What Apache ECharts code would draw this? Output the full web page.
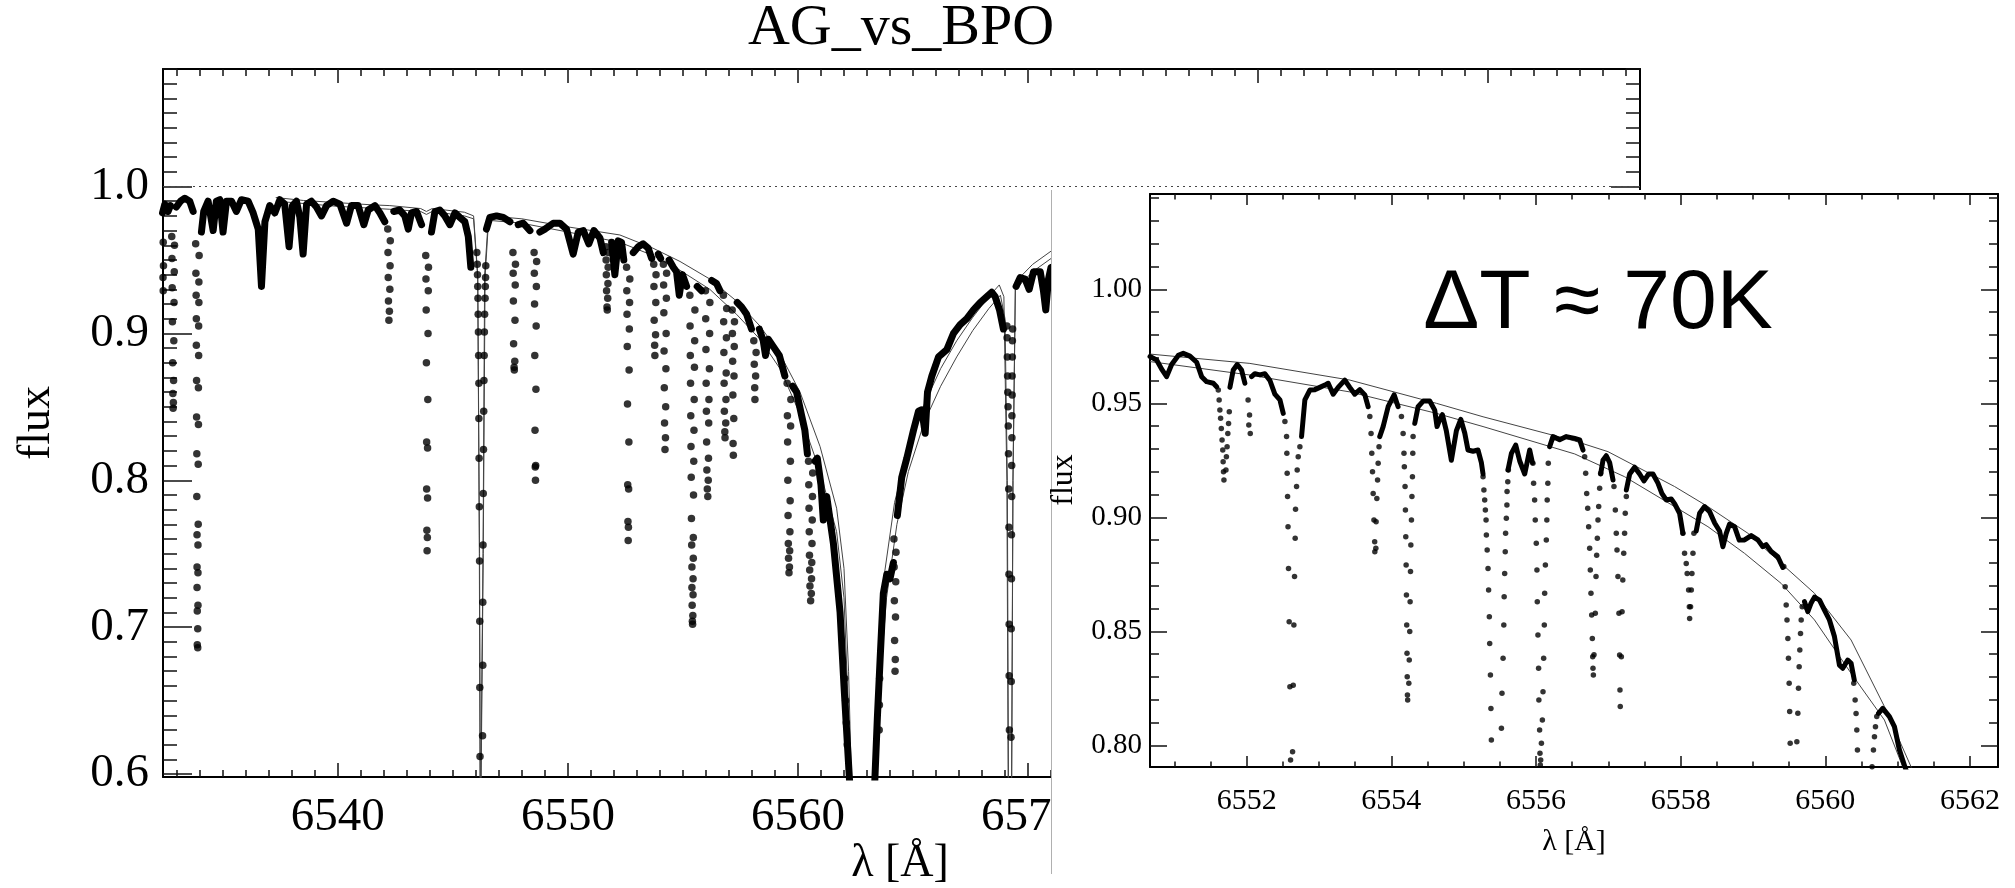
<!DOCTYPE html>
<html><head><meta charset="utf-8">
<script src="https://cdn.jsdelivr.net/npm/echarts@6/dist/echarts.min.js"></script>
<style>html,body{margin:0;padding:0;background:#fff}#c{width:2015px;height:888px}</style>
</head><body><div id="c"></div><script>
// ---------------- DATA ----------------
const titleText = 'AG_vs_BPO';
const noteText = 'ΔT ≈ 70K';
const mainXTicks = [6540, 6550, 6560, 6570, 6580, 6590];
const mainYTicks = [0.6, 0.7, 0.8, 0.9, 1.0];
const insetXTicks = [6552, 6554, 6556, 6558, 6560, 6562];
const insetYTicks = [0.80, 0.85, 0.90, 0.95, 1.00];
const mainRange = {x: [6532.4, 6596.6], y: [0.598, 1.080]};
const insetRange = {x: [6550.664, 6562.387], y: [0.7905, 1.0418]};

// main panel: observed spectrum, dense part (null = deep line, drawn as dots)
const mainSpectrum = [
[6532.38,0.982],[6532.48,0.988],[6532.62,0.983],[6532.72,0.987],[6532.84,null],
[6532.98,0.986],[6533.16,0.990],[6533.35,0.992],[6533.56,0.990],[6533.71,0.983],[6533.90,null],
[6534.07,0.969],[6534.17,0.983],[6534.36,0.990],[6534.58,0.970],[6534.72,0.990],[6534.87,0.991],[6535.01,0.969],
[6535.16,0.990],[6535.38,0.990],[6535.59,0.983],[6535.81,0.991],[6536.10,0.990],[6536.32,0.982],[6536.54,0.971],
[6536.68,0.932],[6536.83,0.976],[6537.04,0.987],[6537.26,0.982],[6537.48,0.991],[6537.69,0.988],[6537.88,0.959],
[6538.03,0.987],[6538.20,0.990],[6538.35,0.979],[6538.49,0.954],[6538.64,0.988],[6538.85,0.990],[6539.07,0.986],
[6539.29,0.980],[6539.51,0.987],[6539.80,0.990],[6540.09,0.988],[6540.38,0.975],[6540.59,0.987],[6540.88,0.987],
[6541.13,0.974],[6541.32,0.984],[6541.61,0.987],[6541.83,0.982],[6542.04,0.976],[6542.22,null],
[6542.43,0.983],[6542.69,0.984],[6542.91,0.980],[6543.06,0.971],[6543.20,0.982],[6543.42,0.983],[6543.64,0.974],[6543.88,null],
[6544.07,0.969],[6544.22,0.983],[6544.43,0.984],[6544.65,0.980],[6544.87,0.974],[6545.09,0.982],[6545.30,0.979],
[6545.52,0.976],[6545.67,0.966],[6545.78,0.945],[6546.23,null],
[6546.46,0.971],[6546.61,0.979],[6546.90,0.980],[6547.19,0.979],[6547.48,0.976],[6547.67,null],
[6547.84,0.974],[6548.06,0.975],[6548.35,0.970],[6548.59,null],
[6548.78,0.969],[6549.00,0.971],[6549.36,0.975],[6549.65,0.975],[6549.94,0.971],[6550.23,0.954],[6550.45,0.969],
[6550.67,0.970],[6550.91,0.961],[6551.13,0.970],[6551.39,0.965],[6551.54,0.955],[6551.71,null],
[6551.90,0.962],[6552.04,0.940],[6552.19,0.963],[6552.33,0.962],[6552.43,0.950],[6552.62,null],
[6552.84,0.955],[6553.06,0.959],[6553.27,0.961],[6553.49,0.958],[6553.64,0.951],[6553.78,null],
[6553.93,0.954],[6554.03,0.951],[6554.22,null],
[6554.40,0.950],[6554.58,0.945],[6554.72,0.942],[6554.84,0.926],[6554.98,0.940],[6555.16,0.932],[6555.42,null],
[6555.62,0.932],[6555.81,0.929],[6556.07,null],
[6556.25,0.936],[6556.46,0.934],[6556.61,0.929],[6556.83,null],
[6557.01,0.924],[6557.19,null],
[6557.36,0.921],[6557.55,0.918],[6557.77,0.913],[6557.98,0.903],[6558.13,null],
[6558.32,0.903],[6558.49,0.895],[6558.59,0.885],[6558.71,0.896],[6558.93,0.891],[6559.19,0.885],[6559.43,0.871],[6559.61,null],
[6559.77,0.864],[6559.94,0.860],[6560.16,0.844],[6560.30,0.834],[6560.41,0.818],[6560.55,null],
[6560.74,0.813],[6560.84,0.815],[6561.00,0.797],[6561.10,0.773],[6561.25,0.789],[6561.54,0.757],[6561.83,0.710],
[6562.00,0.660],[6562.15,0.620],[6562.30,0.580],[6562.80,null],
[6563.30,0.580],[6563.45,0.638],[6563.57,0.678],[6563.71,0.723],[6563.86,0.736],[6564.00,0.733],[6564.15,0.744],[6564.22,null],
[6564.32,0.776],[6564.51,0.802],[6564.73,0.815],[6565.02,0.834],[6565.24,0.847],[6565.38,0.848],[6565.53,0.832],
[6565.63,0.860],[6565.82,0.871],[6566.11,0.884],[6566.47,0.889],[6566.76,0.900],[6567.05,0.906],[6567.34,0.910],
[6567.63,0.916],[6567.92,0.921],[6568.21,0.925],[6568.42,0.928],[6568.57,0.925],[6568.76,0.916],[6568.93,0.903],[6569.22,null],
[6569.48,0.932],[6569.66,0.938],[6569.87,0.937],[6570.05,0.930],[6570.24,0.942],[6570.53,0.942],[6570.67,0.929],
[6570.77,0.916],[6570.89,0.937],[6571.00,0.945],[6571.30,0.946]
];

// main panel: individual points visible in the deep absorption lines
const mainLineDots = [
[6532.39,0.971],[6532.41,0.962],[6532.39,0.954],[6532.42,0.946],[6532.40,0.938],[6532.41,0.929],
[6532.78,0.966],[6532.90,0.960],[6532.79,0.951],[6532.89,0.942],[6532.80,0.931],[6532.88,0.921],[6532.81,0.908],[6532.87,0.895],[6532.82,0.880],[6532.86,0.868],[6532.83,0.859],[6532.85,0.853],[6532.84,0.849],
[6533.82,0.961],[6533.97,0.953],[6533.83,0.941],[6533.96,0.935],[6533.84,0.926],[6533.96,0.921],[6533.85,0.910],[6533.95,0.905],[6533.85,0.892],[6533.95,0.885],[6533.86,0.868],[6533.94,0.863],[6533.86,0.843],[6533.94,0.838],[6533.87,0.818],[6533.93,0.811],[6533.87,0.789],[6533.93,0.770],[6533.88,0.763],[6533.92,0.756],[6533.88,0.741],[6533.92,0.737],[6533.88,0.727],[6533.92,0.715],[6533.89,0.711],[6533.91,0.699],[6533.89,0.688],[6533.91,0.686],
[6542.17,0.971],[6542.28,0.963],[6542.18,0.955],[6542.27,0.946],[6542.19,0.938],[6542.26,0.930],[6542.20,0.922],[6542.24,0.915],[6542.22,0.909],
[6543.82,0.953],[6543.94,0.945],[6543.83,0.937],[6543.93,0.929],[6543.84,0.916],[6543.92,0.900],[6543.85,0.880],[6543.91,0.855],[6543.86,0.826],[6543.90,0.822],[6543.86,0.794],[6543.90,0.788],[6543.87,0.766],[6543.89,0.761],[6543.88,0.752],
[6546.04,0.955],[6546.06,0.947],[6546.07,0.940],[6546.08,0.932],[6546.09,0.924],[6546.10,0.913],[6546.11,0.901],[6546.12,0.885],[6546.13,0.866],[6546.13,0.842],[6546.14,0.815],[6546.15,0.782],[6546.16,0.745],[6546.17,0.704],[6546.17,0.659],[6546.18,0.612],
[6546.43,0.946],[6546.42,0.938],[6546.41,0.932],[6546.40,0.924],[6546.38,0.913],[6546.37,0.901],[6546.36,0.885],[6546.35,0.868],[6546.34,0.847],[6546.33,0.821],[6546.32,0.791],[6546.31,0.756],[6546.30,0.717],[6546.30,0.674],[6546.29,0.626],
[6547.61,0.955],[6547.72,0.947],[6547.62,0.941],[6547.71,0.933],[6547.63,0.922],[6547.70,0.909],[6547.64,0.893],[6547.69,0.881],[6547.66,0.877],[6547.67,0.875],
[6548.53,0.955],[6548.64,0.949],[6548.54,0.941],[6548.63,0.932],[6548.55,0.920],[6548.62,0.905],[6548.56,0.885],[6548.61,0.862],[6548.57,0.834],[6548.60,0.810],[6548.58,0.809],[6548.59,0.800],
[6551.65,0.959],[6551.76,0.955],[6551.66,0.950],[6551.75,0.945],[6551.67,0.940],[6551.74,0.934],[6551.68,0.929],[6551.73,0.924],[6551.70,0.918],[6551.71,0.916],
[6552.55,0.945],[6552.69,0.937],[6552.56,0.929],[6552.68,0.921],[6552.57,0.913],[6552.67,0.903],[6552.58,0.891],[6552.66,0.875],[6552.59,0.852],[6552.65,0.826],[6552.60,0.797],[6552.64,0.794],[6552.61,0.772],[6552.63,0.768],[6552.62,0.759],
[6553.73,0.947],[6553.83,0.940],[6553.74,0.932],[6553.82,0.921],[6553.75,0.909],[6553.81,0.899],[6553.77,0.892],[6553.78,0.885],
[6554.15,0.947],[6554.29,0.941],[6554.16,0.933],[6554.28,0.924],[6554.17,0.914],[6554.27,0.900],[6554.18,0.888],[6554.26,0.876],[6554.19,0.863],[6554.25,0.850],[6554.20,0.839],[6554.24,0.829],[6554.22,0.821],
[6555.30,0.926],[6555.52,0.916],[6555.31,0.905],[6555.51,0.895],[6555.32,0.885],[6555.50,0.877],[6555.33,0.866],[6555.49,0.855],[6555.34,0.844],[6555.48,0.834],[6555.35,0.823],[6555.47,0.813],[6555.36,0.802],[6555.46,0.790],[6555.37,0.774],[6555.45,0.761],[6555.38,0.756],[6555.45,0.747],[6555.39,0.741],[6555.44,0.733],[6555.39,0.727],[6555.44,0.722],[6555.40,0.715],[6555.43,0.708],[6555.41,0.704],[6555.42,0.702],
[6555.98,0.929],[6556.17,0.921],[6555.99,0.910],[6556.16,0.900],[6556.00,0.889],[6556.15,0.876],[6556.01,0.866],[6556.13,0.855],[6556.02,0.847],[6556.12,0.839],[6556.03,0.826],[6556.11,0.815],[6556.04,0.807],[6556.10,0.800],[6556.06,0.794],[6556.08,0.789],
[6556.76,0.926],[6556.90,0.917],[6556.77,0.908],[6556.89,0.897],[6556.78,0.887],[6556.88,0.873],[6556.79,0.866],[6556.87,0.855],[6556.80,0.847],[6556.86,0.839],[6556.82,0.833],[6556.83,0.829],
[6557.14,0.916],[6557.24,0.908],[6557.15,0.900],[6557.23,0.891],[6557.16,0.881],[6557.22,0.871],[6557.17,0.858],[6557.21,0.842],[6557.18,0.825],[6557.19,0.817],
[6558.08,0.895],[6558.18,0.887],[6558.10,0.879],[6558.16,0.871],[6558.12,0.863],[6558.13,0.855],
[6559.53,0.866],[6559.69,0.855],[6559.54,0.844],[6559.68,0.837],[6559.55,0.826],[6559.67,0.813],[6559.56,0.800],[6559.66,0.786],[6559.57,0.776],[6559.65,0.765],[6559.58,0.757],[6559.64,0.752],[6559.59,0.747],[6559.63,0.741],[6559.61,0.737],
[6560.46,0.813],[6560.64,0.805],[6560.47,0.797],[6560.63,0.789],[6560.48,0.781],[6560.62,0.773],[6560.49,0.765],[6560.61,0.757],[6560.50,0.749],[6560.60,0.744],[6560.51,0.739],[6560.59,0.733],[6560.52,0.728],[6560.58,0.723],[6560.55,0.718],
[6562.03,0.665],[6562.07,0.650],[6562.10,0.635],[6562.14,0.620],[6563.55,0.665],[6563.54,0.647],[6563.53,0.630],
[6564.17,0.760],[6564.26,0.751],[6564.18,0.741],[6564.25,0.731],[6564.19,0.718],[6564.24,0.707],[6564.20,0.691],[6564.23,0.678],[6564.22,0.670],
[6569.08,0.905],[6569.09,0.897],[6569.10,0.884],[6569.11,0.871],[6569.12,0.860],[6569.13,0.850],[6569.14,0.837],[6569.15,0.818],[6569.16,0.794],[6569.17,0.768],[6569.17,0.736],[6569.18,0.702],[6569.18,0.667],[6569.19,0.630],
[6569.33,0.903],[6569.32,0.895],[6569.32,0.884],[6569.31,0.871],[6569.31,0.858],[6569.30,0.844],[6569.30,0.829],[6569.29,0.810],[6569.29,0.789],[6569.28,0.763],[6569.28,0.733],[6569.27,0.699],[6569.27,0.663],[6569.26,0.625]
];

// main panel: the two thin model spectra
const mainModelA = [
[6537.30,0.9925],[6538.50,0.9905],[6540.00,0.9890],[6541.50,0.9875],[6542.26,0.9870],[6543.60,0.9850],[6543.85,0.9830],
[6544.10,0.9850],[6545.50,0.9825],[6545.90,0.9800],[6546.08,0.9400],[6546.15,0.7500],[6546.19,0.5500],[6546.27,0.5500],
[6546.31,0.7500],[6546.38,0.9400],[6546.55,0.9800],[6548.00,0.9780],[6550.00,0.9725],[6552.26,0.9670],[6553.70,0.9580],
[6554.87,0.9490],[6556.17,0.9370],[6557.33,0.9220],[6558.35,0.9050],[6559.22,0.8860],[6560.09,0.8600],[6560.96,0.8230],
[6561.68,0.7810],[6562.00,0.7400],[6562.20,0.6700],[6562.35,0.5800],[6562.80,null],
[6563.25,0.5800],[6563.45,0.6600],[6563.70,0.7300],[6564.20,0.7850],[6564.80,0.8220],[6565.50,0.8520],[6566.20,0.8760],
[6566.90,0.8950],[6567.60,0.9110],[6568.30,0.9250],[6568.75,0.9330],[6568.95,0.9250],[6569.08,0.8000],[6569.15,0.5500],
[6569.27,0.5500],[6569.35,0.8000],[6569.45,0.9350],[6570.20,0.9470],[6571.00,0.9560],[6571.50,0.9600]
];
const mainModelB = [
[6537.30,0.9900],[6540.00,0.9865],[6542.26,0.9845],[6543.60,0.9830],[6543.85,0.9810],[6544.10,0.9830],[6545.50,0.9800],
[6545.90,0.9780],[6546.08,0.9380],[6546.16,0.7500],[6546.20,0.5500],[6546.28,0.5500],[6546.32,0.7500],[6546.40,0.9380],
[6546.55,0.9770],[6548.00,0.9750],[6550.00,0.9690],[6552.26,0.9620],[6553.70,0.9530],[6554.87,0.9430],[6556.17,0.9300],
[6557.33,0.9130],[6558.35,0.8960],[6559.22,0.8760],[6560.09,0.8450],[6560.96,0.8060],[6561.68,0.7650],[6562.00,0.7200],
[6562.20,0.6400],[6562.30,0.5800],[6562.80,null],
[6563.30,0.5800],[6563.55,0.6600],[6563.85,0.7200],[6564.30,0.7700],[6564.80,0.8060],[6565.50,0.8400],[6566.20,0.8640],
[6566.90,0.8840],[6567.60,0.9020],[6568.30,0.9170],[6568.80,0.9260],[6569.00,0.9100],[6569.10,0.8000],[6569.16,0.5500],
[6569.28,0.5500],[6569.34,0.8000],[6569.45,0.9300],[6570.20,0.9420],[6571.00,0.9510],[6571.50,0.9550]
];

// inset panel: observed spectrum, dense part
const insetSpectrum = [
[6550.664,0.9705],[6550.756,0.969],[6550.825,0.965],[6550.894,0.9617],[6550.963,0.967],[6551.055,0.971],[6551.124,0.9719],
[6551.216,0.9707],[6551.309,0.968],[6551.378,0.9617],[6551.447,0.9595],[6551.539,0.9588],[6551.585,0.9573],[6551.69,null],
[6551.769,0.957],[6551.815,0.9646],[6551.870,0.967],[6551.930,0.9646],[6551.976,0.9588],[6552.03,null],
[6552.068,0.9617],[6552.114,0.963],[6552.183,0.9625],[6552.252,0.963],[6552.322,0.960],[6552.39,0.954],[6552.46,0.9515],[6552.506,0.9456],[6552.62,null],
[6552.759,0.9354],[6552.805,0.9515],[6552.874,0.9558],[6552.943,0.956],[6553.012,0.957],[6553.081,0.958],[6553.127,0.9588],
[6553.196,0.954],[6553.265,0.957],[6553.357,0.9602],[6553.426,0.957],[6553.495,0.954],[6553.565,0.956],[6553.634,0.9537],[6553.68,0.9485],[6553.77,null],
[6553.84,0.9354],[6553.887,0.9398],[6553.956,0.9485],[6554.039,0.9537],[6554.094,0.9485],[6554.22,null],
[6554.324,0.9412],[6554.37,0.9485],[6554.44,0.951],[6554.531,0.951],[6554.60,0.947],[6554.632,0.9398],[6554.67,0.943],
[6554.706,0.945],[6554.76,0.938],[6554.83,0.925],[6554.90,0.938],[6554.96,0.943],[6555.015,0.937],[6555.06,0.9295],
[6555.13,0.929],[6555.199,0.9295],[6555.245,0.924],[6555.268,0.919],[6555.45,null],
[6555.613,0.9208],[6555.66,0.928],[6555.72,0.9317],[6555.775,0.9247],[6555.844,0.919],[6555.913,0.9295],[6555.95,0.924],[6556.06,null],
[6556.189,0.931],[6556.235,0.9354],[6556.327,0.934],[6556.42,0.9354],[6556.535,0.9346],[6556.604,0.934],[6556.65,0.9295],[6556.79,null],
[6556.894,0.919],[6556.926,0.925],[6556.972,0.927],[6557.018,0.924],[6557.065,0.9164],[6557.16,null],
[6557.249,0.912],[6557.295,0.919],[6557.364,0.922],[6557.433,0.919],[6557.493,0.916],[6557.557,0.919],[6557.617,0.919],
[6557.686,0.915],[6557.74,0.9105],[6557.80,0.9076],[6557.87,0.908],[6557.916,0.906],[6557.985,0.9018],[6558.031,0.893],[6558.12,null],
[6558.215,0.894],[6558.262,0.9018],[6558.33,0.9047],[6558.40,0.9025],[6558.47,0.8975],[6558.538,0.894],[6558.584,0.8871],
[6558.63,0.893],[6558.676,0.897],[6558.745,0.8959],[6558.81,0.890],[6558.883,0.8901],[6558.975,0.892],[6559.067,0.8901],
[6559.136,0.8871],[6559.182,0.888],[6559.251,0.885],[6559.343,0.8827],[6559.412,0.878],[6559.565,null],
[6559.712,0.863],[6559.758,0.8586],[6559.80,0.8622],[6559.85,0.865],[6559.92,0.8637],[6559.988,0.8593],[6560.057,0.855],
[6560.126,0.8477],[6560.195,0.8352],[6560.241,0.8338],[6560.31,0.8374],[6560.356,0.836],[6560.40,0.8287],[6560.55,null],
[6560.735,0.814],[6560.794,0.8162],[6560.886,0.8126],[6560.955,0.8082],[6561.024,0.798],[6561.093,0.7913],[6561.16,0.785]
];

// inset panel: individual points in the deep lines
const insetLineDots = [
[6551.608,0.9558],[6551.62,0.9515],[6551.63,0.9471],[6551.64,0.9434],[6551.65,0.939],[6551.66,0.9339],[6551.67,0.9295],[6551.675,0.9244],[6551.68,0.92],[6551.686,0.9164],
[6551.714,0.9208],[6551.72,0.9266],[6551.73,0.931],[6551.74,0.9368],[6551.75,0.9412],[6551.76,0.9463],
[6552.02,0.9515],[6552.04,0.9449],[6552.03,0.9405],[6552.05,0.9368],
[6552.529,0.942],[6552.552,0.9354],[6552.556,0.9281],[6552.56,0.9193],[6552.566,0.9091],[6552.572,0.8959],[6552.579,0.8776],[6552.588,0.8542],[6552.598,0.8257],[6552.607,0.7936],
[6552.635,0.7972],[6552.644,0.8264],[6552.653,0.8528],[6552.662,0.874],[6552.671,0.8908],[6552.676,0.9035],[6552.69,0.9135],[6552.699,0.9208],[6552.713,0.9266],[6552.736,0.931],
[6553.703,0.9442],[6553.72,0.9368],[6553.73,0.9281],[6553.74,0.92],[6553.749,0.9105],[6553.76,0.8988],[6553.77,0.8893],[6553.772,0.8849],
[6553.786,0.8864],[6553.79,0.8981],[6553.80,0.9083],[6553.81,0.9164],[6553.818,0.9237],[6553.83,0.931],
[6554.14,0.9442],[6554.163,0.9368],[6554.175,0.9281],[6554.18,0.9222],[6554.19,0.9135],[6554.195,0.9032],[6554.20,0.8915],[6554.205,0.8791],[6554.209,0.8659],[6554.213,0.8528],[6554.217,0.8404],[6554.22,0.8301],[6554.223,0.8221],[6554.226,0.8199],
[6554.242,0.8272],[6554.248,0.8374],[6554.255,0.8499],[6554.26,0.863],[6554.265,0.8762],[6554.27,0.8879],[6554.278,0.8988],[6554.285,0.9091],[6554.292,0.9178],[6554.297,0.9281],[6554.301,0.9354],
[6555.268,0.9178],[6555.28,0.912],[6555.291,0.9076],[6555.30,0.9032],[6555.31,0.8988],[6555.314,0.8923],[6555.325,0.8857],[6555.337,0.8776],[6555.345,0.8681],[6555.355,0.8564],[6555.36,0.8447],[6555.37,0.8308],[6555.377,0.8162],[6555.383,0.8023],
[6555.522,0.8075],[6555.53,0.8228],[6555.545,0.8382],[6555.555,0.8528],[6555.56,0.8652],[6555.567,0.8754],[6555.575,0.8849],[6555.58,0.893],[6555.59,0.8996],[6555.598,0.9054],[6555.60,0.9113],[6555.61,0.9156],[6555.618,0.9208],
[6555.958,0.9237],[6555.967,0.9149],[6555.981,0.9076],[6555.99,0.8988],[6556.004,0.8886],[6556.013,0.8769],[6556.018,0.863],[6556.027,0.8484],[6556.036,0.8338],[6556.04,0.8199],[6556.05,0.8067],[6556.055,0.7965],[6556.06,0.7914],
[6556.065,0.7936],[6556.075,0.8009],[6556.088,0.8111],[6556.097,0.8235],[6556.106,0.8382],[6556.115,0.8528],[6556.12,0.8667],[6556.13,0.8791],[6556.143,0.8901],[6556.15,0.8988],[6556.155,0.9076],[6556.164,0.9149],[6556.17,0.9237],
[6556.673,0.9266],[6556.687,0.9193],[6556.701,0.9105],[6556.715,0.904],[6556.728,0.8959],[6556.742,0.8864],[6556.751,0.8769],[6556.76,0.8667],[6556.77,0.8572],[6556.779,0.8469],[6556.784,0.8389],[6556.788,0.8338],[6556.793,0.8308],
[6556.802,0.8397],[6556.82,0.8579],[6556.83,0.874],[6556.839,0.8834],[6556.848,0.8908],[6556.857,0.8988],[6556.867,0.9047],[6556.88,0.9127],[6556.894,0.9193],
[6557.078,0.9135],[6557.097,0.9032],[6557.11,0.893],[6557.12,0.8857],[6557.133,0.874],[6557.147,0.8579],[6557.156,0.8396],[6557.161,0.8243],[6557.165,0.817],
[6557.18,0.8389],[6557.19,0.8586],[6557.2,0.8725],[6557.213,0.8842],[6557.225,0.893],[6557.234,0.9018],[6557.249,0.9091],
[6558.031,0.893],[6558.054,0.8842],[6558.077,0.8798],[6558.09,0.8754],[6558.11,0.8681],[6558.12,0.8608],[6558.124,0.8556],
[6558.137,0.8608],[6558.147,0.8681],[6558.156,0.8754],[6558.17,0.8842],[6558.183,0.893],
[6559.426,0.8784],[6559.445,0.8696],[6559.459,0.8616],[6559.47,0.855],[6559.482,0.8469],[6559.49,0.8382],[6559.5,0.8272],[6559.507,0.8148],[6559.514,0.8009],
[6559.606,0.8016],[6559.62,0.8141],[6559.629,0.825],[6559.638,0.8345],[6559.647,0.8418],[6559.657,0.8491],[6559.666,0.855],[6559.68,0.8608],
[6560.393,0.8272],[6560.412,0.8199],[6560.425,0.814],[6560.435,0.8067],[6560.444,0.798],
[6560.646,0.7906],[6560.665,0.798],[6560.679,0.8038],[6560.693,0.8082],[6560.711,0.8126]
];

// inset panel: the two thin model spectra
const insetModelA = [
[6550.664,0.9716],[6552.045,0.9675],[6553.426,0.9602],[6554.624,0.950],[6555.268,0.9441],[6556.535,0.9335],
[6556.995,0.9288],[6557.916,0.9135],[6558.377,0.9047],[6558.93,0.893],[6559.39,0.8798],[6559.85,0.8667],
[6560.356,0.8462],[6560.817,0.817],[6561.185,0.7906],[6561.30,0.780]
];
const insetModelB = [
[6550.664,0.9683],[6552.045,0.9624],[6553.426,0.955],[6554.624,0.9456],[6555.268,0.9398],[6556.535,0.9278],
[6557.226,0.9178],[6557.916,0.9047],[6558.377,0.8959],[6558.883,0.8842],[6559.39,0.871],[6559.85,0.855],
[6560.356,0.8316],[6560.817,0.8111],[6561.07,0.7906],[6561.20,0.780]
];

// ---------------- CHART ----------------
const SERIF = '"Liberation Serif", "Times New Roman", serif';
const toData = arr => arr.map(p => [p[0], p[1] === null ? '-' : p[1]]);
function steps(a, b, n, div) { const out = []; for (let i = a; i <= b; i += n) out.push(i / div); return out; }
const mainXMinor = steps(6533, 6596, 1, 1);
const mainYMinor = steps(60, 108, 1, 100);
const insetXMinor = steps(13102, 13124, 1, 2);
const insetYMinor = steps(80, 104, 1, 100);

function xAxesFor(g, rng, major, minor, fs, margin, majLen, minLen, z) {
  const base = {type: 'value', gridIndex: g, min: rng[0], max: rng[1], z: z, splitLine: {show: false}};
  const tickStyle = {color: '#111', width: 1.5};
  return [
    Object.assign({}, base, {position: 'bottom',
      axisLine: {show: true, onZero: false, lineStyle: {color: '#000', width: 2}},
      axisTick: {show: true, inside: true, length: majLen, customValues: major, lineStyle: tickStyle},
      axisLabel: {show: true, customValues: major, formatter: v => String(Math.round(v)), fontSize: fs, fontFamily: SERIF, color: '#000', margin: margin}}),
    Object.assign({}, base, {position: 'bottom', axisLine: {show: false, onZero: false},
      axisTick: {show: true, inside: true, length: minLen, customValues: minor, lineStyle: tickStyle}, axisLabel: {show: false}}),
    Object.assign({}, base, {position: 'top',
      axisLine: {show: true, onZero: false, lineStyle: {color: '#000', width: 2}},
      axisTick: {show: true, inside: true, length: majLen, customValues: major, lineStyle: tickStyle}, axisLabel: {show: false}}),
    Object.assign({}, base, {position: 'top', axisLine: {show: false, onZero: false},
      axisTick: {show: true, inside: true, length: minLen, customValues: minor, lineStyle: tickStyle}, axisLabel: {show: false}})
  ];
}
function yAxesFor(g, rng, major, minor, dec, fs, margin, majLen, minLen, z) {
  const base = {type: 'value', gridIndex: g, min: rng[0], max: rng[1], z: z, splitLine: {show: false}};
  const tickStyle = {color: '#111', width: 1.5};
  return [
    Object.assign({}, base, {position: 'left',
      axisLine: {show: true, onZero: false, lineStyle: {color: '#000', width: 2}},
      axisTick: {show: true, inside: true, length: majLen, customValues: major, lineStyle: tickStyle},
      axisLabel: {show: true, customValues: major, formatter: v => v.toFixed(dec), fontSize: fs, fontFamily: SERIF, color: '#000', margin: margin}}),
    Object.assign({}, base, {position: 'left', axisLine: {show: false, onZero: false},
      axisTick: {show: true, inside: true, length: minLen, customValues: minor, lineStyle: tickStyle}, axisLabel: {show: false}}),
    Object.assign({}, base, {position: 'right',
      axisLine: {show: true, onZero: false, lineStyle: {color: '#000', width: 2}},
      axisTick: {show: true, inside: true, length: majLen, customValues: major, lineStyle: tickStyle}, axisLabel: {show: false}}),
    Object.assign({}, base, {position: 'right', axisLine: {show: false, onZero: false},
      axisTick: {show: true, inside: true, length: minLen, customValues: minor, lineStyle: tickStyle}, axisLabel: {show: false}})
  ];
}

const chart = echarts.init(document.getElementById('c'), null, {renderer: 'canvas'});
const option = {
  animation: false,
  backgroundColor: '#fff',
  grid: [
    {left: 163, top: 69, width: 1477, height: 708},
    {left: 1150, top: 194, width: 848, height: 573}
  ],
  xAxis: [].concat(
    xAxesFor(0, mainRange.x, mainXTicks, mainXMinor, 47, 17, 14, 7, 1),
    xAxesFor(1, insetRange.x, insetXTicks, insetXMinor, 30, 19, 11, 5.5, 60)
  ),
  yAxis: [].concat(
    yAxesFor(0, mainRange.y, mainYTicks, mainYMinor, 1, 47, 14, 29, 14, 1),
    yAxesFor(1, insetRange.y, insetYTicks, insetYMinor, 2, 29, 8, 17, 9, 60)
  ),
  series: [
    {type: 'line', xAxisIndex: 0, yAxisIndex: 0, data: toData(mainModelA), showSymbol: false, z: 2,
      lineStyle: {color: '#444', width: 1}, connectNulls: false,
      markLine: {silent: true, symbol: 'none', label: {show: false}, data: [{yAxis: 1}],
        lineStyle: {type: [2, 4], color: '#444', width: 1}}},
    {type: 'line', xAxisIndex: 0, yAxisIndex: 0, data: toData(mainModelB), showSymbol: false, z: 2,
      lineStyle: {color: '#444', width: 1}, connectNulls: false},
    {type: 'line', xAxisIndex: 0, yAxisIndex: 0, data: toData(mainSpectrum), showSymbol: false, z: 3,
      lineStyle: {color: '#000', width: 7, cap: 'round', join: 'round'}, connectNulls: false},
    {type: 'scatter', xAxisIndex: 0, yAxisIndex: 0, data: mainLineDots, symbol: 'circle', symbolSize: 7.5, z: 3,
      itemStyle: {color: '#000'}},

    {type: 'line', xAxisIndex: 4, yAxisIndex: 4, data: toData(insetModelA), showSymbol: false, z: 61,
      lineStyle: {color: '#444', width: 1},
      markLine: {silent: true, symbol: 'none', label: {show: false}, data: [{yAxis: 1}],
        lineStyle: {type: [2, 3], color: '#333', width: 1.2}}},
    {type: 'line', xAxisIndex: 4, yAxisIndex: 4, data: toData(insetModelB), showSymbol: false, z: 61,
      lineStyle: {color: '#444', width: 1}},
    {type: 'line', xAxisIndex: 4, yAxisIndex: 4, data: toData(insetSpectrum), showSymbol: false, z: 62,
      lineStyle: {color: '#000', width: 5, cap: 'round', join: 'round'}, connectNulls: false},
    {type: 'scatter', xAxisIndex: 4, yAxisIndex: 4, data: insetLineDots, symbol: 'circle', symbolSize: 5.5, z: 62,
      itemStyle: {color: '#000'}}
  ],
  graphic: [
    {type: 'rect', z: 50, shape: {x: 1051, y: 190, width: 964, height: 698}, style: {fill: '#fff'}},
    {type: 'line', z: 51, shape: {x1: 1051.5, y1: 190, x2: 1051.5, y2: 874}, style: {stroke: '#b0b0b0', lineWidth: 1}},
    {type: 'text', z: 70, x: 901, y: 29, style: {text: titleText, fontSize: 58, fontFamily: SERIF, fill: '#000',
      align: 'center', verticalAlign: 'middle', textAlign: 'center', textVerticalAlign: 'middle'}},
    {type: 'text', z: 5, x: 37, y: 423, rotation: Math.PI / 2, style: {text: 'flux', fontSize: 46, fontFamily: SERIF, fill: '#000',
      align: 'center', verticalAlign: 'middle', textAlign: 'center', textVerticalAlign: 'middle'}},
    {type: 'text', z: 5, x: 900, y: 864, style: {text: 'λ [Å]', fontSize: 46, fontFamily: SERIF, fill: '#000',
      align: 'center', verticalAlign: 'middle', textAlign: 'center', textVerticalAlign: 'middle'}},
    {type: 'text', z: 70, x: 1064, y: 480, rotation: Math.PI / 2, style: {text: 'flux', fontSize: 32, fontFamily: SERIF, fill: '#000',
      align: 'center', verticalAlign: 'middle', textAlign: 'center', textVerticalAlign: 'middle'}},
    {type: 'text', z: 70, x: 1574, y: 842, style: {text: 'λ [Å]', fontSize: 30, fontFamily: SERIF, fill: '#000',
      align: 'center', verticalAlign: 'middle', textAlign: 'center', textVerticalAlign: 'middle'}},
    {type: 'text', z: 70, x: 1598, y: 305, style: {text: noteText, fontSize: 84, fontFamily: '"Liberation Sans", Arial, sans-serif', fill: '#000',
      align: 'center', verticalAlign: 'middle', textAlign: 'center', textVerticalAlign: 'middle'}}
  ]
};
chart.setOption(option);
</script></body></html>
